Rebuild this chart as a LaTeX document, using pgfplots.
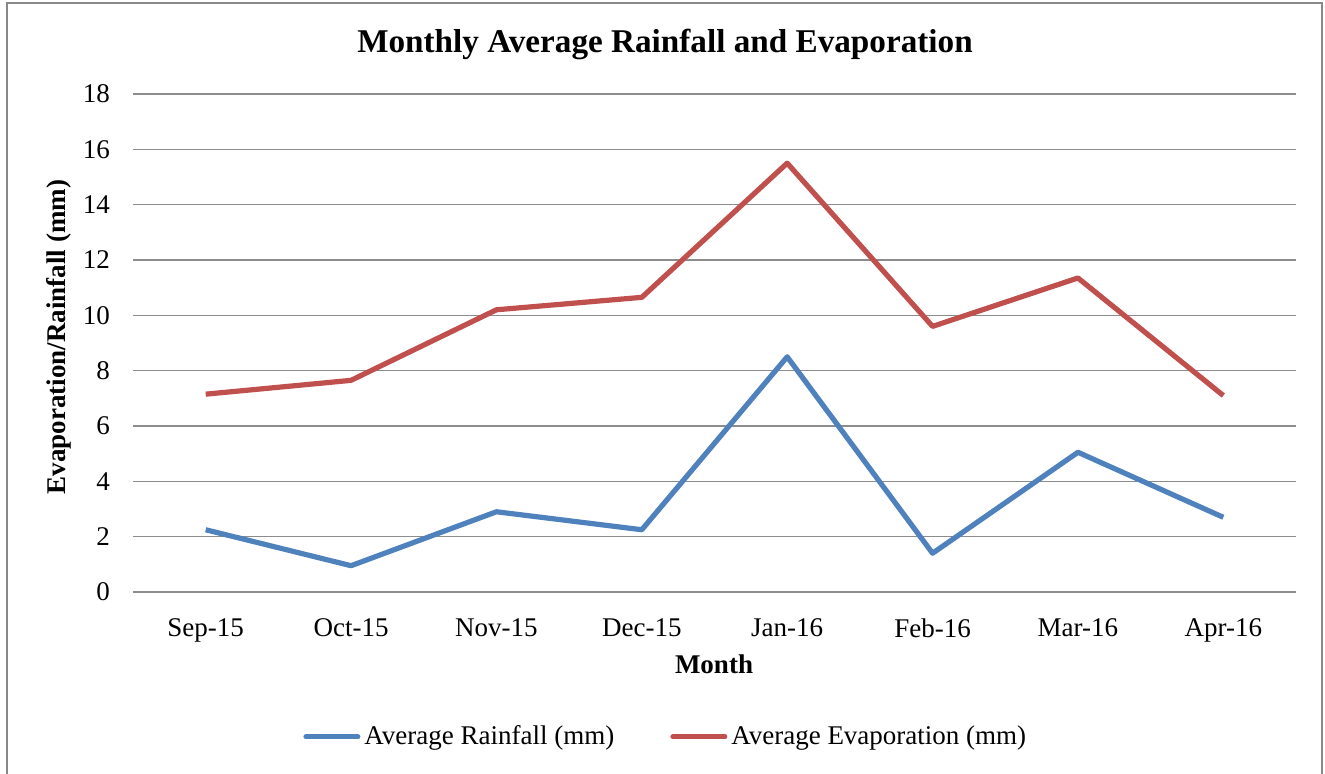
\documentclass[border=0pt]{standalone}
\usepackage{fontspec}
\setmainfont{Liberation Serif}
\usepackage{pgfplots}
\pgfplotsset{compat=1.18}
\definecolor{rainblue}{HTML}{4F81BD}
\definecolor{evapred}{HTML}{C0504D}
\definecolor{gridgray}{HTML}{8C8C8C}
\definecolor{framegray}{HTML}{898989}
\begin{document}
\begin{tikzpicture}
\useasboundingbox (0,0) rectangle (662.5pt,387pt);
\draw[framegray, line width=1pt] (3.5pt,-5pt) -- (3.5pt,385.5pt) -- (661.2pt,385.5pt) -- (661.2pt,-5pt);
\begin{axis}[
  at={(66.5pt,91pt)}, anchor=south west,
  scale only axis, width=581.5pt, height=249pt,
  xmin=-0.5, xmax=7.5, ymin=0, ymax=18,
  ytick={0,2,...,18},
  xtick={0,...,7},
  xticklabels={Sep-15,Oct-15,Nov-15,Dec-15,Jan-16,Feb-16,Mar-16,Apr-16},
  axis line style={draw=none},
  major tick length=0pt,
  ymajorgrids, grid style={gridgray, line width=0.7pt},
  tick label style={font=\fontsize{13.5}{16}\selectfont},
  /pgf/number format/assume math mode=true,
  xticklabel style={yshift=-10pt},
  yticklabel style={xshift=-8pt},
  clip=false,
  legend columns=2,
  legend style={at={(0.459,-0.291)}, anchor=center, draw=none, fill=none,
    font=\fontsize{13.5}{16}\selectfont, inner sep=0pt,
    /tikz/every even column/.append style={column sep=26pt}},
  legend image code/.code={\draw[#1, line width=2.5pt, line cap=round] (0pt,0pt) -- (26pt,0pt);},
]
\addplot[rainblue, line width=2.6pt, line join=round] coordinates {
 (0,2.25) (1,0.95) (2,2.9) (3,2.25) (4,8.5) (5,1.4) (6,5.05) (7,2.7)};
\addlegendentry{Average Rainfall (mm)}
\addplot[evapred, line width=2.6pt, line join=round] coordinates {
 (0,7.15) (1,7.65) (2,10.2) (3,10.65) (4,15.5) (5,9.6) (6,11.35) (7,7.1)};
\addlegendentry{Average Evaporation (mm)}
\end{axis}
\node[font=\fontsize{16.6}{19}\selectfont\bfseries] at (332.5pt,365pt) {Monthly Average Rainfall and Evaporation};
\node[font=\fontsize{13.5}{16}\selectfont\bfseries] at (357pt,55pt) {Month};
\node[font=\fontsize{13.5}{16}\selectfont\bfseries, rotate=90] at (29.5pt,218.5pt) {Evaporation/Rainfall (mm)};
\end{tikzpicture}
\end{document}
